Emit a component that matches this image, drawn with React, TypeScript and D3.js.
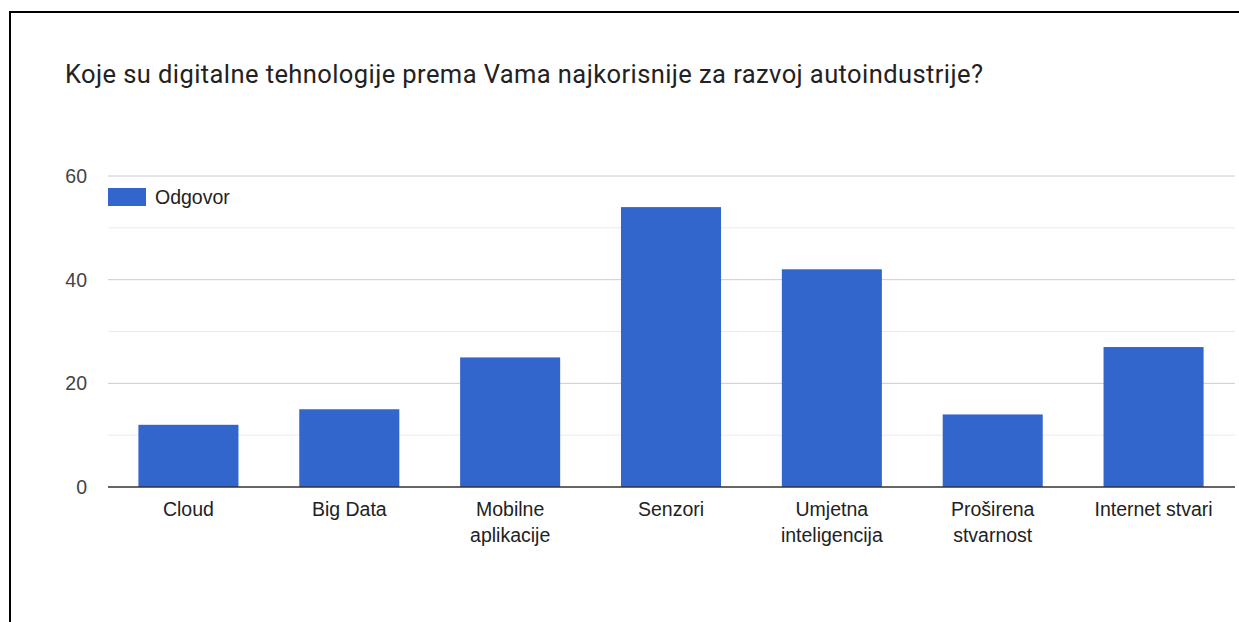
import React, { useRef, useEffect } from 'react';
import * as d3 from 'd3';

const title = 'Koje su digitalne tehnologije prema Vama najkorisnije za razvoj autoindustrije?';
const seriesName = 'Odgovor';
const categories = [
  ['Cloud'],
  ['Big Data'],
  ['Mobilne', 'aplikacije'],
  ['Senzori'],
  ['Umjetna', 'inteligencija'],
  ['Proširena', 'stvarnost'],
  ['Internet stvari'],
];
const values = [12, 15, 25, 54, 42, 14, 27];
const majorTicks = [0, 20, 40, 60];
const minorTicks = [10, 30, 50];

const W = 1239;
const H = 622;

const App = () => {
  const svgRef = useRef<SVGSVGElement>(null);

  useEffect(() => {
    document.body.style.margin = '0';
    const keys = categories.map(c => c.join(' '));

    // Scales
    const x = d3.scaleBand()
      .domain(keys)
      .range([108, 1234])
      .paddingInner(0.378)
      .paddingOuter(0.189);
    const y = d3.scaleLinear()
      .domain([0, 60])
      .range([487, 176]);

    const svg = d3.select(svgRef.current)
      .attr('width', W)
      .attr('height', H)
      .html('');

    svg.append('rect').attr('width', W).attr('height', H).attr('fill', '#fff');

    // frame
    svg.append('path')
      .attr('d', `M10,${H} V12 H${W}`)
      .attr('fill', 'none')
      .attr('stroke', '#000')
      .attr('stroke-width', 2);

    // Title
    svg.append('text')
      .attr('x', 65)
      .attr('y', 83)
      .attr('font-family', 'Roboto, sans-serif')
      .attr('font-size', 25.5)
      .attr('textLength', 918)
      .attr('lengthAdjust', 'spacing')
      .attr('fill', '#222')
      .text(title);

    // Grid
    svg.append('g')
      .selectAll('line')
      .data(minorTicks)
      .enter()
      .append('line')
        .attr('x1', 108).attr('x2', 1235)
        .attr('y1', d => y(d)).attr('y2', d => y(d))
        .attr('stroke', '#ebebeb');
    svg.append('g')
      .selectAll('line')
      .data(majorTicks.filter(d => d > 0))
      .enter()
      .append('line')
        .attr('x1', 108).attr('x2', 1235)
        .attr('y1', d => y(d)).attr('y2', d => y(d))
        .attr('stroke', '#cccccc');

    // Y axis labels
    svg.append('g')
      .selectAll('text')
      .data(majorTicks)
      .enter()
      .append('text')
        .attr('x', 87)
        .attr('y', d => y(d) + 7)
        .attr('text-anchor', 'end')
        .attr('font-family', '"Liberation Sans", Arial, sans-serif')
        .attr('font-size', 19.5)
        .attr('fill', '#444')
        .text(d => d);

    // Bars
    svg.append('g')
      .selectAll('rect')
      .data(values)
      .enter()
      .append('rect')
        .attr('x', (d, i) => x(keys[i]))
        .attr('y', d => y(d))
        .attr('width', x.bandwidth())
        .attr('height', d => y(0) - y(d))
        .attr('fill', '#3366cc');

    // Baseline
    svg.append('line')
      .attr('x1', 108).attr('x2', 1235)
      .attr('y1', y(0)).attr('y2', y(0))
      .attr('stroke', '#333')
      .attr('stroke-width', 1.5);

    // X labels
    const xl = svg.append('g')
      .selectAll('text')
      .data(categories)
      .enter()
      .append('text')
        .attr('text-anchor', 'middle')
        .attr('font-family', '"Liberation Sans", Arial, sans-serif')
        .attr('font-size', 19.5)
        .attr('fill', '#222')
        .attr('x', (d, i) => x(keys[i]) + x.bandwidth() / 2)
        .attr('y', 516);
    xl.selectAll('tspan')
      .data(d => d)
      .enter()
      .append('tspan')
        .attr('x', function () { return (this.parentNode as SVGTextElement).getAttribute('x'); })
        .attr('dy', (d, i) => (i === 0 ? 0 : 26))
        .text(d => d);

    // Legend
    svg.append('rect')
      .attr('x', 108).attr('y', 188)
      .attr('width', 38).attr('height', 18)
      .attr('fill', '#3366cc');
    svg.append('text')
      .attr('x', 155).attr('y', 204)
      .attr('font-family', '"Liberation Sans", Arial, sans-serif')
      .attr('font-size', 19.5)
      .attr('fill', '#222')
      .text(seriesName);
  }, []);

  return <svg ref={svgRef} style={{ display: 'block' }} />;
};

export default App;
